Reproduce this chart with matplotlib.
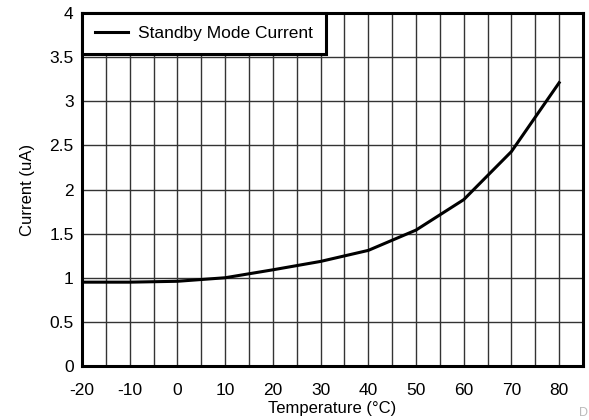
import matplotlib
matplotlib.use("Agg")
import matplotlib.pyplot as plt
import numpy as np

plt.rcParams['font.family'] = ['Liberation Sans', 'DejaVu Sans']
plt.rcParams['axes.unicode_minus'] = False

temperature = [-20, -10, 0, 10, 20, 30, 40, 50, 60, 70, 80]
current = [0.95, 0.95, 0.96, 1.00, 1.09, 1.185, 1.31, 1.54, 1.885, 2.43, 3.21]
x_ticks = [-20, -10, 0, 10, 20, 30, 40, 50, 60, 70, 80]
y_ticks = [0, 0.5, 1, 1.5, 2, 2.5, 3, 3.5, 4]
y_tick_labels = ["0", "0.5", "1", "1.5", "2", "2.5", "3", "3.5", "4"]

fig = plt.figure(figsize=(5.89, 4.2), dpi=100)
ax = fig.add_axes([82/589, 1-366/420, (583-82)/589, (366-13)/420])

ax.plot(temperature, current, color='black', lw=2.2, label='Standby Mode Current', zorder=3)

ax.set_xlim(-20, 85)
ax.set_ylim(0, 4)
ax.set_xticks(x_ticks)
ax.set_xticks(np.arange(-15, 85, 10), minor=True)
ax.set_yticks(y_ticks)
ax.set_yticklabels(y_tick_labels)
ax.grid(True, which='both', axis='x', color='#333333', lw=1.0)
ax.grid(True, which='major', axis='y', color='#333333', lw=1.0)
ax.tick_params(which='both', length=0, labelsize=12.5)
ax.tick_params(axis='x', pad=12)
ax.tick_params(axis='y', pad=6)
for s in ax.spines.values():
    s.set_linewidth(2.2)
ax.set_xlabel('Temperature (°C)', fontsize=12, labelpad=2.5)
ax.set_ylabel('Current (uA)', fontsize=12, labelpad=10)

leg = ax.legend(loc='upper left', bbox_to_anchor=(0, 1), borderaxespad=0, fancybox=False,
                framealpha=1, edgecolor='black', fontsize=12.5, handlelength=1.9,
                borderpad=0.75, handletextpad=0.6)
leg.get_frame().set_linewidth(2.2)

fig.text(588/589, 1/420, 'D', fontsize=9, color='#bbbbbb', ha='right', va='bottom')

fig.savefig('out.png', dpi=100)
